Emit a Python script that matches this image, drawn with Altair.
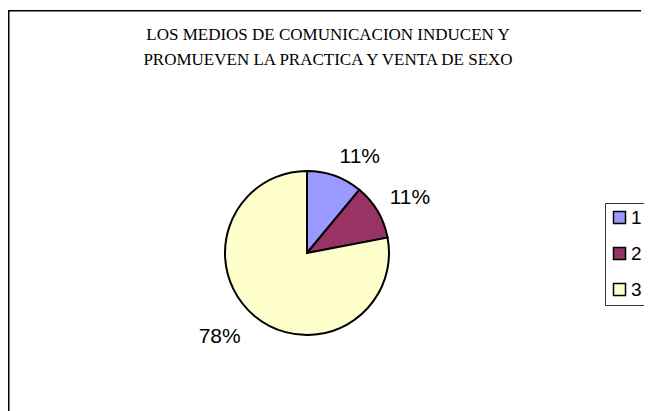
import altair as alt
import pandas as pd

categories = ["1", "2", "3"]
percent = [11, 11, 78]
labels = ["11%", "11%", "78%"]
title_lines = ["LOS MEDIOS DE COMUNICACION INDUCEN Y", "PROMUEVEN LA PRACTICA Y VENTA DE SEXO"]
colors = ["#9999FF", "#993366", "#FFFFCC"]

df = pd.DataFrame({"cat": categories, "pct": percent, "label": labels})
tdf = pd.DataFrame({"t": ["\n".join(title_lines)]})
bdf = pd.DataFrame({"a": [0]})

W, H = 636, 401
CX, CY, R = 299, 243, 82

border_left = alt.Chart(bdf).mark_rect(fill="black", strokeWidth=0).encode(
    x=alt.value(0), x2=alt.value(1.5), y=alt.value(0), y2=alt.value(H)
)
border_top = alt.Chart(bdf).mark_rect(fill="black", strokeWidth=0).encode(
    x=alt.value(0), x2=alt.value(W - 3), y=alt.value(0), y2=alt.value(1.5)
)

title = alt.Chart(tdf).mark_text(
    font="Liberation Serif", fontSize=17, lineBreak="\n", lineHeight=25,
    baseline="middle", align="center", color="black"
).encode(text="t:N", x=alt.value(320), y=alt.value(25))

base = alt.Chart(df).transform_joinaggregate(
    total="sum(pct)"
).transform_window(
    cum="sum(pct)", sort=[alt.SortField("cat")]
).transform_calculate(
    mid="(datum.cum - datum.pct / 2) / datum.total",
    rlab="datum.mid < 0.5 ? datum.label : ''",
    llab="datum.mid >= 0.5 ? datum.label : ''",
).encode(
    theta=alt.Theta("pct:Q", stack=True),
    order=alt.Order("cat:N"),
)

pie = base.mark_arc(radius=R, stroke="black", strokeWidth=2).encode(
    x=alt.value(CX), y=alt.value(CY),
    color=alt.Color(
        "cat:N",
        scale=alt.Scale(domain=categories, range=colors),
        legend=alt.Legend(
            title=None, orient="none", legendX=597, legendY=193,
            symbolType="square", symbolSize=144, symbolStrokeColor="black",
            symbolStrokeWidth=1.5, labelFont="Liberation Sans", labelFontSize=19,
            labelColor="black", strokeColor="#333333", padding=5, rowPadding=16,
            labelOffset=2, fillColor="white",
            labelExpr="datum.label + '            '",
        ),
    ),
)

text_r = base.mark_text(radius=96, align="left", baseline="middle", dy=-6,
                        font="Liberation Sans", fontSize=21, color="black").encode(
    text="rlab:N", x=alt.value(CX), y=alt.value(CY)
)
text_l = base.mark_text(radius=104, align="right", baseline="middle", dy=4,
                        font="Liberation Sans", fontSize=21, color="black").encode(
    text="llab:N", x=alt.value(CX), y=alt.value(CY)
)

chart = alt.layer(border_left, border_top, title, pie, text_r, text_l).properties(
    width=W, height=H,
    autosize=alt.AutoSizeParams(type="none"),
    padding={"left": 0, "top": 2, "right": 0, "bottom": 0},
).configure_view(stroke="transparent", strokeWidth=0)

chart.save("out.html", embed_options={"renderer": "svg", "actions": False})
